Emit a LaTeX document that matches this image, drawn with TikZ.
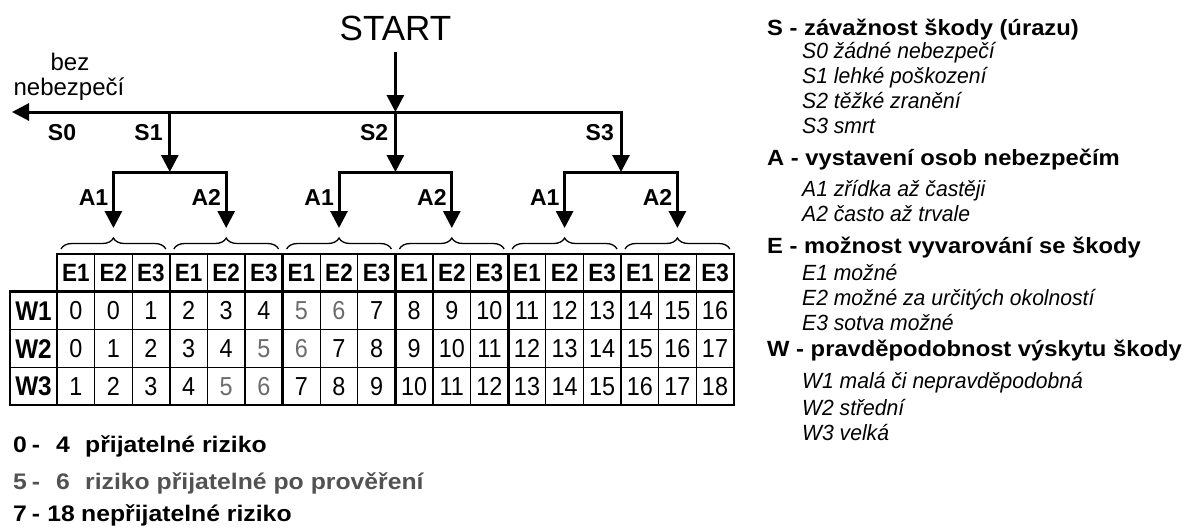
\documentclass[tikz,border=0pt]{standalone}
\usepackage{fontspec}
\setmainfont{Liberation Sans}
\newfontfamily\widefont[FakeStretch=1.08]{Liberation Sans}
\newfontfamily\botfont[FakeStretch=1.1]{Liberation Sans}
\newfontfamily\itfont[FakeStretch=0.96]{Liberation Sans}
\newfontfamily\narrowfont[FakeStretch=0.9]{Liberation Sans}
\usetikzlibrary{arrows.meta,decorations.pathreplacing}
\definecolor{cellgray}{gray}{0.42}
\definecolor{leggray}{gray}{0.32}
\begin{document}
\begin{tikzpicture}[x=1pt,y=-1pt,
  arr/.style={line width=3pt,-{Triangle[length=17pt,width=17pt]}},
  tk/.style={line width=2.6pt,line cap=rect},
  tn/.style={line width=1.2pt},
  brc/.style={decorate,decoration={brace,amplitude=11pt},line width=1.3pt},
  lbl/.style={inner sep=0pt,font=\fontsize{23}{26}\selectfont\bfseries},
  hd/.style={anchor=base west,inner sep=0pt,font=\widefont\fontsize{22}{25}\selectfont\bfseries},
  itm/.style={anchor=base west,inner sep=0pt,font=\itfont\fontsize{22}{25}\selectfont\itshape},
  bot/.style={anchor=base west,inner sep=0pt,font=\botfont\fontsize{22.5}{26}\selectfont\bfseries},
  hcell/.style={anchor=base,inner sep=0pt,font=\narrowfont\fontsize{25}{28}\selectfont\bfseries},
  vcell/.style={anchor=base,inner sep=0pt,font=\narrowfont\fontsize{26}{29}\selectfont},
  wcell/.style={anchor=base,inner sep=0pt,font=\narrowfont\fontsize{27}{30}\selectfont\bfseries}]
\useasboundingbox (0,0) rectangle (1185,530);
\def\cw{37.6}\def\xo{57}\def\yo{254}\def\rh{37.75}\def\xl{10}
\pgfmathsetmacro\xr{\xo+18*\cw}
% ---------- tree ----------
\foreach \g in {1,...,6} {
  \pgfmathsetmacro\gx{\xo+(3*\g-1.5)*\cw}
  \coordinate (a\g) at (\gx,228);
  \pgfmathtruncatemacro\aa{2-mod(\g,2)}
  \node[lbl,anchor=base east] (al\g) at (\gx-5,205) {A\aa};
  \draw[brc] ({\xo+(3*\g-3)*\cw+4},249) -- ({\xo+3*\g*\cw-4},249);
}
\foreach \k in {1,2,3} {
  \pgfmathsetmacro\bx{\xo+(6*\k-3)*\cw}
  \coordinate (b\k) at (\bx,172);
  \coordinate (j\k) at (\bx,112);
  \pgfmathtruncatemacro\ga{2*\k-1}
  \pgfmathtruncatemacro\gb{2*\k}
  \draw[arr] (b\k) -| (a\ga);
  \draw[arr] (b\k) -| (a\gb);
  \node[lbl,anchor=base east] (sl\k) at (\bx-7,140) {S\k};
}
\coordinate (s0end) at (12,112);
\node[font=\fontsize{35}{40}\selectfont,inner xsep=0pt,inner ysep=11.5pt] (start) at (j2 |- 0,28) {START};
\draw[arr] (start) -- (j2);
\draw[arr] (j2) -- (s0end);
\draw[arr] (j2) -| (b3);
\draw[arr] (j1) -- (b1);
\draw[arr] (j2) -- (b2);
\node[lbl,anchor=base] (sl0) at (62,140) {S0};
\node[inner sep=0pt,anchor=base,font=\fontsize{24}{28}\selectfont] (bez1) at (70,70) {bez};
\node[inner sep=0pt,anchor=base,font=\fontsize{24}{28}\selectfont] (bez2) at (69,95) {nebezpečí};
% ---------- table ----------
\foreach \i in {0,...,17} {
  \pgfmathtruncatemacro\e{mod(\i,3)+1}
  \node[hcell] (e\i) at ({\xo+(\i+0.5)*\cw},{\yo+0.5*\rh+9}) {E\e};
}
\foreach \r in {1,2,3} {
  \node[wcell] (w\r) at ({(\xl+\xo)/2},{\yo+(\r+0.5)*\rh+9.7}) {W\r};
  \foreach \i in {0,...,17} {
    \pgfmathtruncatemacro\v{max(\i+\r-2,0)}
    \pgfmathtruncatemacro\gg{(\v==5)||(\v==6)}
    \ifnum\gg=1 \def\cc{cellgray}\else\def\cc{black}\fi
    \node[vcell,text=\cc] (c\r-\i) at ({\xo+(\i+0.5)*\cw},{\yo+(\r+0.5)*\rh+9.3}) {\v};
  }
}
\foreach \g in {0,...,5} {
  \foreach \d in {1,2} {
    \draw[tn] ({\xo+(3*\g+\d)*\cw},\yo) -- ({\xo+(3*\g+\d)*\cw},{\yo+4*\rh});
  }
}
\foreach \r in {2,3} {
  \draw[tn] (\xl,{\yo+\r*\rh}) -- (\xr,{\yo+\r*\rh});
}
\draw[tk] (\xo,\yo) -- (\xr,\yo) -- (\xr,{\yo+4*\rh}) -- (\xl,{\yo+4*\rh}) -- (\xl,{\yo+\rh}) -- (\xr,{\yo+\rh});
\foreach \g in {0,...,5} {
  \draw[tk] ({\xo+3*\g*\cw},\yo) -- ({\xo+3*\g*\cw},{\yo+4*\rh});
}
% ---------- bottom legend ----------
\node[bot] (r1n) at (13,452) {0\hspace{5pt}-};
\node[bot,anchor=base east] (r1m) at (70,452) {4};
\node[bot] (r1t) at (85,452) {přijatelné riziko};
\node[bot,text=leggray] (r2n) at (13,489) {5\hspace{5pt}-};
\node[bot,text=leggray,anchor=base east] (r2m) at (70,489) {6};
\node[bot,text=leggray] (r2t) at (85,489) {riziko přijatelné po prověření};
\node[bot] (r3n) at (13,521) {7\hspace{5pt}-};
\node[bot,anchor=base east] (r3m) at (75,521) {18};
\node[bot] (r3t) at (81,521) {nepřijatelné riziko};
% ---------- right legend ----------
\node[hd] (hs) at (767,35) {S - závažnost škody (úrazu)};
\node[itm] (s0) at (802,58) {S0 žádné nebezpečí};
\node[itm] (s1) at (802,83) {S1 lehké poškození};
\node[itm] (s2) at (802,108) {S2 těžké zranění};
\node[itm] (s3) at (802,133) {S3 smrt};
\node[hd] (ha) at (767,165) {A - vystavení osob nebezpečím};
\node[itm] (a1t) at (802,196) {A1 zřídka až častěji};
\node[itm] (a2t) at (802,221) {A2 často až trvale};
\node[hd] (he) at (767,253) {E - možnost vyvarování se škody};
\node[itm] (e1t) at (802,280) {E1 možné};
\node[itm] (e2t) at (802,305) {E2 možné za určitých okolností};
\node[itm] (e3t) at (802,330) {E3 sotva možné};
\node[hd] (hw) at (767,356) {W - pravděpodobnost výskytu škody};
\node[itm] (w1t) at (802,388) {W1 malá či nepravděpodobná};
\node[itm] (w2t) at (802,415) {W2 střední};
\node[itm] (w3t) at (802,440) {W3 velká};
\end{tikzpicture}
\end{document}
